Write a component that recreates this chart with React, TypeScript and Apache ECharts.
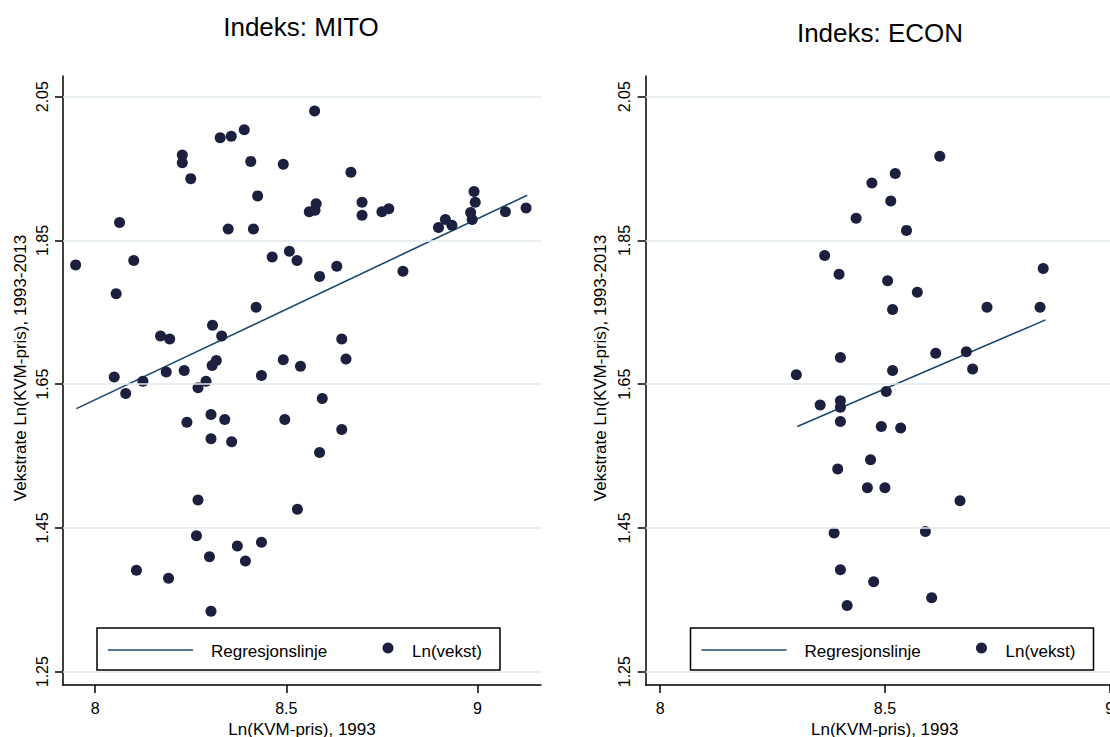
import React, { useEffect, useRef } from "react";
import * as echarts from "echarts";

// ---- Data ----
const mitoX = [
  7.949, 8.064, 8.101, 8.055, 8.228, 8.228, 8.25, 8.327, 8.356, 8.39,
  8.407, 8.492, 8.574, 8.425, 8.348, 8.414, 8.669, 8.698, 8.698, 8.56,
  8.575, 8.578, 8.75, 8.768, 8.898, 8.916, 8.933, 8.982, 8.986, 8.991,
  8.994, 9.073, 9.127, 8.463, 8.508, 8.528, 8.632, 8.587, 8.805, 8.421,
  8.307, 8.171, 8.195, 8.331, 8.645, 8.656, 8.492, 8.537, 8.317, 8.306,
  8.186, 8.233, 8.05, 8.125, 8.435, 8.08, 8.269, 8.29, 8.594, 8.303,
  8.339, 8.24, 8.496, 8.645, 8.303, 8.357, 8.587, 8.269, 8.529, 8.265,
  8.372, 8.435, 8.299, 8.393, 8.108, 8.192, 8.303,
];
const mitoY = [
  1.816, 1.875, 1.822, 1.776, 1.969, 1.958, 1.936, 1.993, 1.995, 2.004,
  1.96, 1.956, 2.03, 1.912, 1.866, 1.866, 1.945, 1.903, 1.885, 1.89,
  1.892, 1.901, 1.89, 1.894, 1.868, 1.879, 1.871, 1.889, 1.879, 1.918,
  1.903, 1.89, 1.895, 1.827, 1.835, 1.822, 1.814, 1.8, 1.807, 1.757,
  1.732, 1.717, 1.713, 1.717, 1.713, 1.685, 1.684, 1.675, 1.683, 1.676,
  1.667, 1.669, 1.66, 1.654, 1.662, 1.637, 1.645, 1.654, 1.63, 1.608,
  1.601, 1.597, 1.601, 1.587, 1.574, 1.57, 1.555, 1.489, 1.476, 1.439,
  1.425, 1.43, 1.41, 1.404, 1.391, 1.38, 1.334,
];
const econX = [
  8.622, 8.523, 8.471, 8.513, 8.436, 8.548, 8.366, 8.398, 8.506, 8.572,
  8.517, 8.727, 8.845, 8.852, 8.401, 8.303, 8.517, 8.613, 8.681, 8.695,
  8.503, 8.356, 8.401, 8.401, 8.401, 8.492, 8.535, 8.468, 8.395, 8.461,
  8.5, 8.667, 8.387, 8.59, 8.401, 8.475, 8.604, 8.416,
];
const econY = [
  1.967, 1.943, 1.93, 1.905, 1.881, 1.864, 1.829, 1.803, 1.794, 1.778,
  1.754, 1.757, 1.757, 1.811, 1.687, 1.663, 1.669, 1.693, 1.695, 1.671,
  1.64, 1.621, 1.627, 1.618, 1.598, 1.591, 1.589, 1.545, 1.532, 1.506,
  1.506, 1.488, 1.443, 1.445, 1.392, 1.375, 1.353, 1.342,
];
const mitoRegX = [7.951, 9.13];
const mitoRegY = [1.616, 1.913];
const econRegX = [8.305, 8.857];
const econRegY = [1.591, 1.7395];

const xTicks = [8, 8.5, 9];
const yTicks = [1.25, 1.45, 1.65, 1.85, 2.05];
const panelTitles = ["Indeks: MITO", "Indeks: ECON"];
const xTitle = "Ln(KVM-pris), 1993";
const yTitle = "Vekstrate Ln(KVM-pris), 1993-2013";
const legendNames = ["Regresjonslinje", "Ln(vekst)"];

const FONT = "'Liberation Sans', Arial, Helvetica, sans-serif";
const DOT = "#1c1f3e";
const LINE = "#1a476f";
const GRID = "#e1eaee";

const fmt = (v: number) => String(Number(Number(v).toFixed(2)));

export default function App() {
  const ref = useRef<HTMLDivElement>(null);
  useEffect(() => {
    document.body.style.margin = "0";
    if (!ref.current) return;
    const chart = echarts.init(ref.current, undefined, { renderer: "svg" });

    const panels = [
      { x: mitoX, y: mitoY, rx: mitoRegX, ry: mitoRegY, left: 63, width: 478, xmin: 7.916, xmax: 9.166 },
      { x: econX, y: econY, rx: econRegX, ry: econRegY, left: 645.7, width: 478, xmin: 7.968, xmax: 9.031 },
    ];
    const titlePos = [
      [301, 27],
      [880, 33],
    ];
    const yNamePos = [20, 600];
    const legendLeft = [97, 690.5];

    const axisLine = { show: true, onZero: false, lineStyle: { color: "#000", width: 1.5 } };
    const tickStyle = { color: "#000", width: 1.5 };

    const graphic: any[] = [];
    panels.forEach((p, i) => {
      graphic.push({
        type: "text",
        x: titlePos[i][0],
        y: titlePos[i][1],
        style: { text: panelTitles[i], fontSize: 26, fontFamily: FONT, fill: "#000", align: "center", verticalAlign: "middle" },
      });
      graphic.push({
        type: "text",
        x: yNamePos[i],
        y: 368,
        rotation: Math.PI / 2,
        style: { text: yTitle, fontSize: 17, fontFamily: FONT, fill: "#000", align: "center", verticalAlign: "middle" },
      });
      const ox = legendLeft[i];
      graphic.push({
        type: "group",
        z: 100,
        children: [
          { type: "rect", shape: { x: ox, y: 628, width: 403, height: 42 }, style: { fill: "#fff", stroke: "#000", lineWidth: 1.5 } },
          { type: "line", shape: { x1: ox + 11, y1: 650, x2: ox + 96, y2: 650 }, style: { stroke: LINE, lineWidth: 1.6 } },
          { type: "text", x: ox + 114, y: 651, style: { text: legendNames[0], fontSize: 17, fontFamily: FONT, fill: "#000", align: "left", verticalAlign: "middle" } },
          { type: "circle", shape: { cx: ox + 291, cy: 648, r: 5.5 }, style: { fill: DOT } },
          { type: "text", x: ox + 315, y: 651, style: { text: legendNames[1], fontSize: 17, fontFamily: FONT, fill: "#000", align: "left", verticalAlign: "middle" } },
        ],
      });
    });

    chart.setOption({
      animation: false,
      backgroundColor: "#fff",
      grid: panels.map((p) => ({
        left: p.left,
        top: 76,
        width: p.width,
        height: 609,
        containLabel: false,
        outerBoundsMode: "none",
      })),
      xAxis: panels.map((p, i) => ({
        type: "value",
        gridIndex: i,
        min: p.xmin,
        max: p.xmax,
        axisLine,
        axisTick: { show: true, customValues: xTicks, length: 8, inside: false, lineStyle: tickStyle },
        axisLabel: { customValues: xTicks, margin: 15, fontSize: 16, fontFamily: FONT, color: "#000", formatter: fmt },
        splitLine: { show: false },
        name: xTitle,
        nameLocation: "middle",
        nameGap: 29,
        nameTextStyle: { fontSize: 17, fontFamily: FONT, color: "#000" },
      })),
      yAxis: panels.map((p, i) => ({
        type: "value",
        gridIndex: i,
        min: 1.2315,
        max: 2.0788,
        axisLine,
        axisTick: { show: true, customValues: yTicks, length: 8, inside: false, lineStyle: tickStyle },
        axisLabel: { customValues: yTicks, margin: 13, rotate: 90, fontSize: 16, fontFamily: FONT, color: "#000", formatter: fmt },
        splitLine: { show: false },
      })),
      series: panels.flatMap((p, i) => [
        {
          type: "line",
          name: legendNames[0],
          xAxisIndex: i,
          yAxisIndex: i,
          data: p.rx.map((x, k) => [x, p.ry[k]]),
          symbol: "none",
          lineStyle: { color: LINE, width: 1.6 },
          z: 2,
          silent: true,
          markLine: {
            silent: true,
            symbol: ["none", "none"],
            label: { show: false },
            lineStyle: { color: GRID, width: 1.6, type: "solid" },
            data: yTicks.map((v) => ({ yAxis: v })),
          },
        },
        {
          type: "scatter",
          name: legendNames[1],
          xAxisIndex: i,
          yAxisIndex: i,
          data: p.x.map((x, k) => [x, p.y[k]]),
          symbol: "circle",
          symbolSize: 11,
          itemStyle: { color: DOT, opacity: 1 },
          z: 3,
        },
      ]),
      graphic,
    });
    return () => chart.dispose();
  }, []);
  return <div ref={ref} style={{ width: 1110, height: 737 }} />;
}
